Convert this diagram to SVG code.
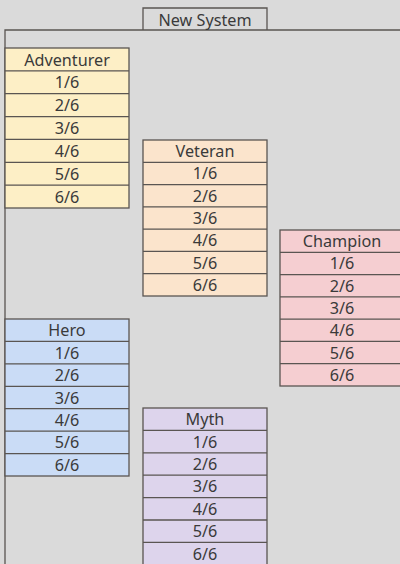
<svg xmlns="http://www.w3.org/2000/svg" width="400" height="564" viewBox="0 0 400 564">
<defs>
<style>
text{font-family:"Noto Sans","Liberation Sans",sans-serif;font-size:16.2px;fill:#3a3a3a;text-anchor:middle;dominant-baseline:central}
.b{stroke:#5a5552;stroke-width:1.3}
.adv{fill:#fdefc6}
.vet{fill:#fbe4cc}
.cha{fill:#f5ced1}
.her{fill:#cadcf6}
.myt{fill:#ddd4ec}
.ln{stroke:#5a5552;stroke-width:1.3;fill:none}
</style>
</defs>
<rect width="400" height="564" fill="#dadada"/>
<g id="frame">
<path class="ln" d="M143,30 V8 H267 V30"/>
<path class="ln" d="M5,564 V30 H400"/>
<text x="205" y="19.5">New System</text>
</g>
<g id="adventurer">
<rect class="adv b" x="5" y="48" width="124" height="160"/>
<path class="ln" d="M5,70.9H129M5,93.7H129M5,116.6H129M5,139.4H129M5,162.3H129M5,185.1H129"/>
<text x="67" y="59.5">Adventurer</text>
<text x="67" y="82.3">1/6</text>
<text x="67" y="105.2">2/6</text>
<text x="67" y="128">3/6</text>
<text x="67" y="150.9">4/6</text>
<text x="67" y="173.7">5/6</text>
<text x="67" y="196.6">6/6</text>
</g>
<g id="veteran">
<rect class="vet b" x="143" y="140" width="124" height="156"/>
<path class="ln" d="M143,162.3H267M143,184.6H267M143,206.9H267M143,229.1H267M143,251.4H267M143,273.7H267"/>
<text x="205" y="151.2">Veteran</text>
<text x="205" y="173.4">1/6</text>
<text x="205" y="195.7">2/6</text>
<text x="205" y="218">3/6</text>
<text x="205" y="240.3">4/6</text>
<text x="205" y="262.6">5/6</text>
<text x="205" y="284.9">6/6</text>
</g>
<g id="champion">
<rect class="cha b" x="280" y="230" width="124" height="156"/>
<path class="ln" d="M280,252.3H404M280,274.6H404M280,296.9H404M280,319.1H404M280,341.4H404M280,363.7H404"/>
<text x="342" y="241.2">Champion</text>
<text x="342" y="263.4">1/6</text>
<text x="342" y="285.7">2/6</text>
<text x="342" y="308">3/6</text>
<text x="342" y="330.3">4/6</text>
<text x="342" y="352.6">5/6</text>
<text x="342" y="374.9">6/6</text>
</g>
<g id="hero">
<rect class="her b" x="5" y="319" width="124" height="157"/>
<path class="ln" d="M5,341.4H129M5,363.9H129M5,386.3H129M5,408.7H129M5,431.1H129M5,453.6H129"/>
<text x="67" y="330.2">Hero</text>
<text x="67" y="352.6">1/6</text>
<text x="67" y="375.1">2/6</text>
<text x="67" y="397.5">3/6</text>
<text x="67" y="419.9">4/6</text>
<text x="67" y="442.3">5/6</text>
<text x="67" y="464.8">6/6</text>
</g>
<g id="myth">
<rect class="myt b" x="143" y="408" width="124" height="160"/>
<path class="ln" d="M143,430.4H267M143,452.8H267M143,475.2H267M143,497.6H267M143,520H267M143,542.4H267"/>
<text x="205" y="419.2">Myth</text>
<text x="205" y="441.6">1/6</text>
<text x="205" y="464">2/6</text>
<text x="205" y="486.4">3/6</text>
<text x="205" y="508.8">4/6</text>
<text x="205" y="531.2">5/6</text>
<text x="205" y="553.6">6/6</text>
</g>
<g id="connectors"></g>
</svg>
